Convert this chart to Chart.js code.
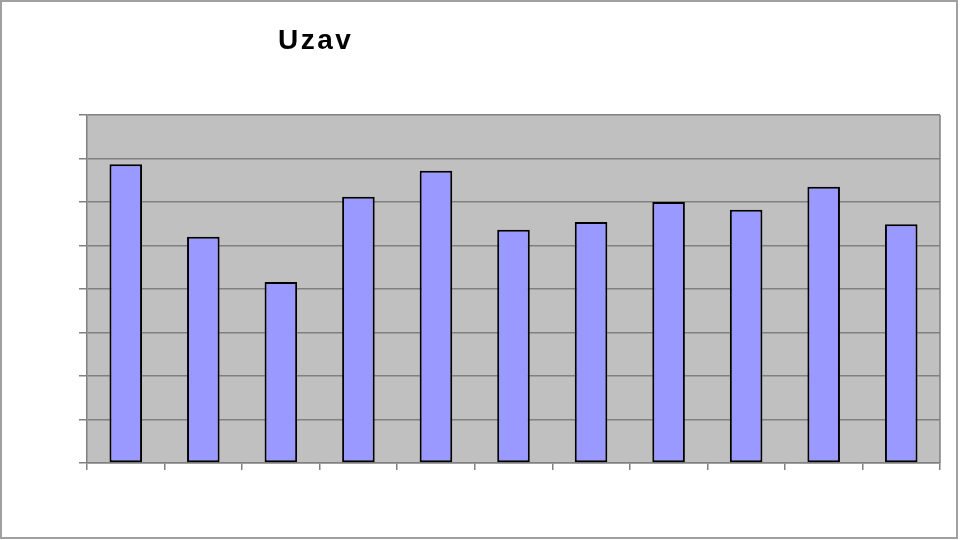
<!DOCTYPE html>
<html lang="en">
<head>
    <meta charset="UTF-8" />
    <title>Uzav</title>
    <script src="https://cdn.jsdelivr.net/npm/chart.js"></script>
    <style>
        html, body {
            margin: 0;
            padding: 0;
            background: #FFFFFF;
        }

        #wrap {
            width: 960px;
            height: 540px;
            position: relative;
        }
    </style>
</head>
<body>
    <div id="wrap">
        <canvas id="uzavChart" width="960" height="540"></canvas>
    </div>

    <script>
        const categories = ['1', '2', '3', '4', '5', '6', '7', '8', '9', '10', '11'];
        const uzavValues = [6.87, 5.20, 4.16, 6.12, 6.72, 5.36, 5.54, 6.00, 5.82, 6.35, 5.49];
        const yTicks = [0, 1, 2, 3, 4, 5, 6, 7, 8];
        const chartTitle = 'Uzav';

        // gray plot area, frame and the outer border of the picture
        const framePlugin = {
            id: 'frame',
            beforeDraw(chart) {
                const { ctx, chartArea: a } = chart;
                ctx.save();
                ctx.fillStyle = '#C0C0C0';
                ctx.fillRect(a.left, a.top, a.right - a.left, a.bottom - a.top);
                ctx.strokeStyle = '#A0A0A0';
                ctx.lineWidth = 2;
                ctx.strokeRect(1, 1, 956, 537);
                ctx.restore();
            },
            afterDraw(chart) {
                const { ctx, chartArea: a } = chart;
                ctx.save();
                ctx.strokeStyle = '#808080';
                ctx.lineWidth = 1.5;
                ctx.beginPath();
                ctx.moveTo(a.right, a.top);
                ctx.lineTo(a.right, a.bottom);
                ctx.stroke();
                ctx.fillStyle = '#000000';
                ctx.font = 'bold 28px "Liberation Sans", Arial, sans-serif';
                ctx.letterSpacing = '2.5px';
                ctx.textAlign = 'left';
                ctx.textBaseline = 'alphabetic';
                ctx.fillText(chartTitle, 278, 49);
                ctx.restore();
            }
        };

        new Chart(document.getElementById('uzavChart'), {
            type: 'bar',
            data: {
                labels: categories,
                datasets: [{
                    data: uzavValues,
                    backgroundColor: '#9999FF',
                    borderColor: '#000000',
                    borderWidth: 2,
                    borderSkipped: false,
                    categoryPercentage: 1,
                    barPercentage: 0.42
                }]
            },
            options: {
                responsive: false,
                animation: false,
                layout: {
                    padding: { left: 0, right: 20, top: 115, bottom: 0 }
                },
                plugins: {
                    legend: { display: false },
                    title: { display: false },
                    tooltip: { enabled: false }
                },
                scales: {
                    x: {
                        afterFit(scale) { scale.height = 77; },
                        grid: {
                            offset: true,
                            drawOnChartArea: false,
                            drawTicks: true,
                            tickLength: 7,
                            color: '#808080',
                            lineWidth: 1.5
                        },
                        border: { display: true, color: '#808080', width: 1.5 },
                        ticks: { display: false }
                    },
                    y: {
                        min: 0,
                        max: 8,
                        afterFit(scale) { scale.width = 87; },
                        afterBuildTicks(scale) {
                            scale.ticks = yTicks.map(v => ({ value: v }));
                        },
                        grid: {
                            drawTicks: true,
                            tickLength: 8,
                            color: '#808080',
                            lineWidth: 1.5
                        },
                        border: { display: true, color: '#808080', width: 1.5 },
                        ticks: { display: false }
                    }
                }
            },
            plugins: [framePlugin]
        });
    </script>
</body>
</html>
